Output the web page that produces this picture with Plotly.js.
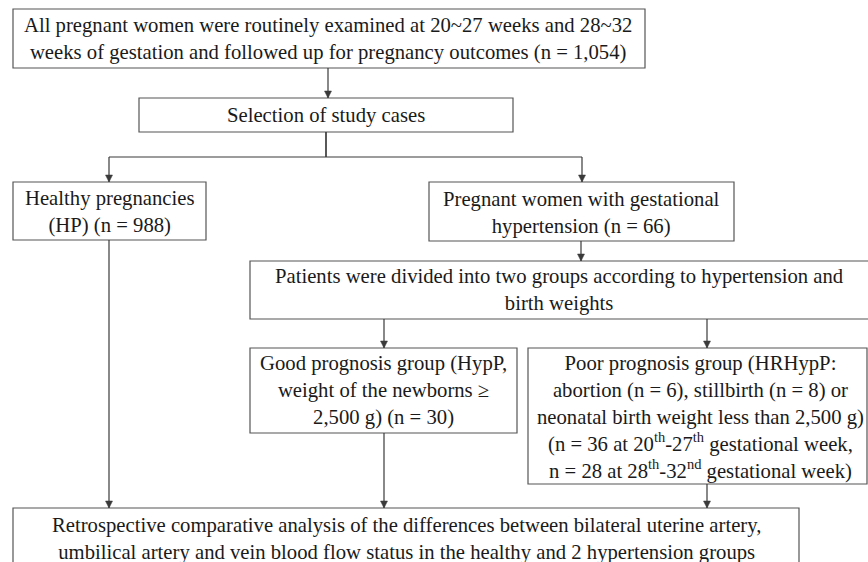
<!DOCTYPE html>
<html>
<head>
<meta charset="utf-8">
<script src="https://cdn.plot.ly/plotly-3.0.1.min.js"></script>
</head>
<body style="margin:0;background:#fff">
<div id="chart" style="width:868px;height:562px"></div>
<script>
// ---- Flowchart content (text of each node) ----
const nodeIds = ["all", "select", "healthy", "gestHyp", "divided", "good", "poor", "analysis"];
const nodeTexts = [
  "All pregnant women were routinely examined at 20~27 weeks and 28~32<br>weeks of gestation and followed up for pregnancy outcomes (n = 1,054)",
  "Selection of study cases",
  "Healthy pregnancies<br>(HP) (n = 988)",
  "Pregnant women with gestational<br>hypertension (n = 66)",
  "Patients were divided into two groups according to hypertension and<br>birth weights",
  "Good prognosis group (HypP,<br>weight of the newborns ≥<br>2,500 g) (n = 30)",
  "Poor prognosis group (HRHypP:<br>abortion (n = 6), stillbirth (n = 8) or<br>neonatal birth weight less than 2,500 g)<br>(n = 36 at 20<sup>th</sup>-27<sup>th</sup> gestational week,<br>n = 28 at 28<sup>th</sup>-32<sup>nd</sup> gestational week)",
  "Retrospective comparative analysis of the differences between bilateral uterine artery,<br>umbilical artery and vein blood flow status in the healthy and 2 hypertension groups"
];
// edges: from -> to
const edgeFrom = ["all", "select", "select", "gestHyp", "divided", "divided", "healthy", "good", "poor"];
const edgeTo   = ["select", "healthy", "gestHyp", "divided", "good", "poor", "analysis", "analysis", "analysis"];

// ---- Layout geometry (pixel space, y downward) ----
const W = 868, H = 562;
const geom = {
  all:      {x0: 13,  x1: 645, y0: 9,   y1: 68,  tx: 328, ty: 39},
  select:   {x0: 139, x1: 513, y0: 98,  y1: 132, tx: 326, ty: 115.5},
  healthy:  {x0: 13,  x1: 206, y0: 182, y1: 240, tx: 109, ty: 212},
  gestHyp:  {x0: 429, x1: 734, y0: 182, y1: 241, tx: 581.5, ty: 212.5},
  divided:  {x0: 250, x1: 880, y0: 261, y1: 319, tx: 559, ty: 290},
  good:     {x0: 250, x1: 517, y0: 348, y1: 433, tx: 383.5, ty: 390.5},
  poor:     {x0: 528, x1: 867, y0: 348, y1: 484, tx: 700, ty: 417},
  analysis: {x0: 13,  x1: 799, y0: 508, y1: 590, tx: 406, ty: 539}
};
// edge routes: list of points, last point gets the arrowhead
const routes = {
  "all>select":       [[328, 68], [328, 98]],
  "select>healthy":   [[326, 132], [326, 157], [109, 157], [109, 182]],
  "select>gestHyp":   [[326, 132], [326, 157], [582, 157], [582, 182]],
  "gestHyp>divided":  [[581, 241], [581, 261]],
  "divided>good":     [[384, 319], [384, 348]],
  "divided>poor":     [[707, 319], [707, 348]],
  "healthy>analysis": [[109, 240], [109, 508]],
  "good>analysis":    [[384, 433], [384, 508]],
  "poor>analysis":    [[707, 484], [707, 508]]
};

const lineColor = "#3a3a3a";
const boxColor = "#555555";
const textColor = "#1a1a1a";
const fontFamily = "Liberation Serif";

const shapes = [];
const annotations = [];

nodeIds.forEach((id, i) => {
  const g = geom[id];
  shapes.push({type: "rect", xref: "x", yref: "y", x0: g.x0, x1: g.x1, y0: g.y0, y1: g.y1,
    line: {color: boxColor, width: 1.2}, fillcolor: "rgba(0,0,0,0)"});
  annotations.push({x: g.tx / W, y: 1 - g.ty / H, xref: "paper", yref: "paper", text: nodeTexts[i], showarrow: false,
    xanchor: "center", yanchor: "middle", align: "center",
    font: {family: fontFamily, size: 20.7, color: textColor}});
});

edgeFrom.forEach((f, i) => {
  const pts = routes[f + ">" + edgeTo[i]];
  for (let k = 0; k < pts.length - 1; k++) {
    shapes.push({type: "line", xref: "x", yref: "y", x0: pts[k][0], y0: pts[k][1], x1: pts[k+1][0], y1: pts[k+1][1],
      line: {color: lineColor, width: 1.2}});
  }
  const b = pts[pts.length - 1];
  shapes.push({type: "path", xref: "x", yref: "y",
    path: `M ${b[0]-3.5} ${b[1]-7} L ${b[0]+3.5} ${b[1]-7} L ${b[0]} ${b[1]} Z`,
    fillcolor: lineColor, line: {color: lineColor, width: 0.5}});
});

const layout = {
  width: W, height: H,
  margin: {l: 0, r: 0, t: 0, b: 0},
  paper_bgcolor: "#ffffff", plot_bgcolor: "#ffffff",
  xaxis: {range: [0, W], visible: false, fixedrange: true},
  yaxis: {range: [H, 0], visible: false, fixedrange: true},
  shapes: shapes,
  annotations: annotations,
  showlegend: false
};

Plotly.newPlot("chart", [{x: [], y: []}], layout, {displayModeBar: false});
</script>
</body>
</html>
